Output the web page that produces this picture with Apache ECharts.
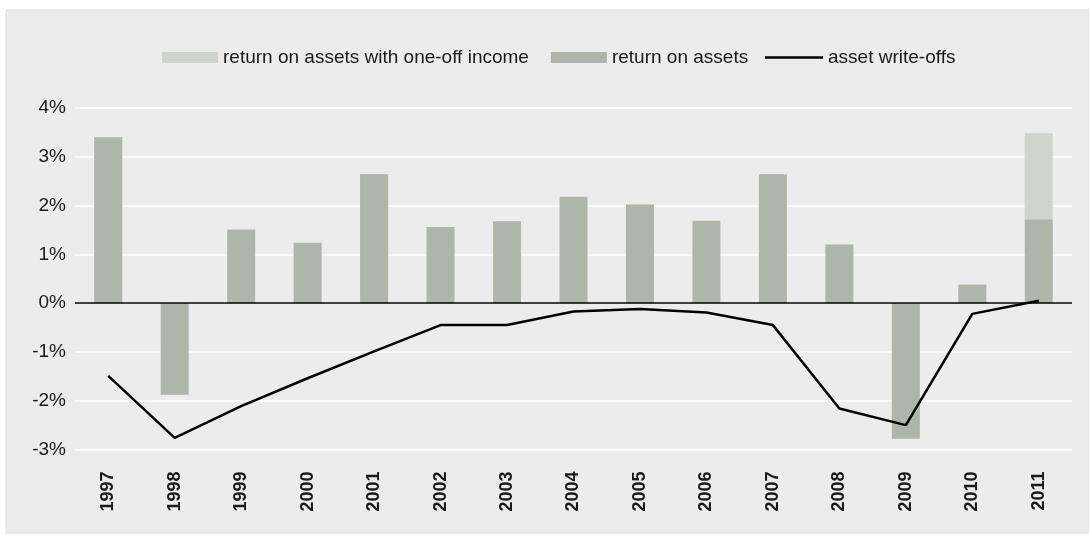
<!DOCTYPE html>
<html>
<head>
<meta charset="utf-8">
<script src="https://cdn.jsdelivr.net/npm/echarts@6/dist/echarts.min.js"></script>
<style>html,body{margin:0;padding:0;background:#fff}#c{width:1089px;height:534px}</style>
</head>
<body>
<div id="c"></div>
<script>
const years = ['1997','1998','1999','2000','2001','2002','2003','2004','2005','2006','2007','2008','2009','2010','2011'];
const returnOnAssets = [3.40, -1.88, 1.51, 1.24, 2.64, 1.56, 1.68, 2.18, 2.02, 1.69, 2.64, 1.20, -2.78, 0.38, 1.72];
const oneOffIncome = [null, null, null, null, null, null, null, null, null, null, null, null, null, null, 1.76];
const assetWriteOffs = [-1.49, -2.76, -2.11, -1.54, -0.99, -0.45, -0.45, -0.17, -0.12, -0.19, -0.45, -2.16, -2.50, -0.22, 0.05];
const yTicks = [-3, -2, -1, 0, 1, 2, 3, 4];

const FONT = '"Liberation Sans", Arial, Helvetica, sans-serif';
const legendText = {fontFamily: FONT, fontSize: 19, color: '#1a1a1a'};
const chart = echarts.init(document.getElementById('c'), null, {renderer: 'canvas'});
chart.setOption({
  backgroundColor: '#ffffff',
  animation: false,
  graphic: [{
    type: 'rect', z: -10, silent: true,
    shape: {x: 6, y: 10, width: 1083, height: 524},
    style: {fill: '#ececec', stroke: '#dedede', lineWidth: 1}
  }],
  legend: [
    {
      top: 43, left: 157,
      itemWidth: 56, itemHeight: 11, itemGap: 22,
      textStyle: legendText,
      data: [
        {name: 'return on assets with one-off income', icon: 'rect'},
        {name: 'return on assets', icon: 'rect'}
      ]
    },
    {
      top: 43, left: 760,
      itemWidth: 58, itemHeight: 2.5,
      textStyle: legendText,
      data: [{name: 'asset write-offs', icon: 'rect'}]
    }
  ],
  grid: {left: 75, right: 17, top: 108, bottom: 84.5, containLabel: false},
  xAxis: {
    type: 'category', data: years,
    axisLine: {show: false, onZero: false}, axisTick: {show: false},
    axisLabel: {rotate: 90, margin: 22, fontFamily: FONT, fontSize: 18, fontWeight: 'bold', color: '#1a1a1a'}
  },
  yAxis: {
    type: 'value', min: yTicks[0], max: yTicks[yTicks.length - 1], interval: 1,
    axisLine: {show: false}, axisTick: {show: false},
    splitLine: {lineStyle: {color: '#ffffff', width: 1.5}},
    axisLabel: {margin: 9, fontFamily: FONT, fontSize: 19, color: '#1a1a1a', formatter: v => v + '%'}
  },
  series: [
    {
      name: 'return on assets', type: 'bar', stack: 'roa', data: returnOnAssets,
      barWidth: 28, itemStyle: {color: '#aeb5aa'},
      markLine: {
        silent: true, symbol: 'none', label: {show: false},
        lineStyle: {color: '#000', width: 1.5, type: 'solid'},
        data: [{yAxis: 0}]
      }
    },
    {
      name: 'return on assets with one-off income', type: 'bar', stack: 'roa', data: oneOffIncome,
      barWidth: 28, itemStyle: {color: '#cfd4cc'}
    },
    {
      name: 'asset write-offs', type: 'line', data: assetWriteOffs,
      symbol: 'none', lineStyle: {color: '#000', width: 2.5}, itemStyle: {color: '#000'}, z: 5
    }
  ]
});
</script>
</body>
</html>
